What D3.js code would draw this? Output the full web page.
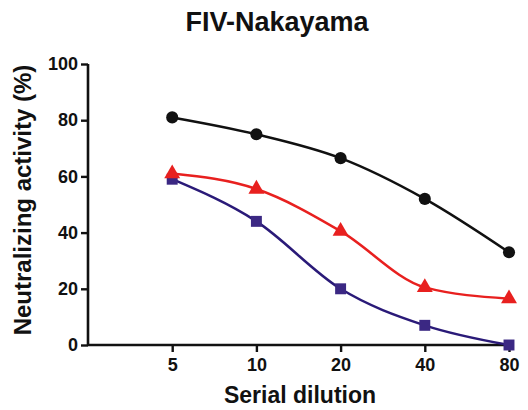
<!DOCTYPE html>
<html><head><meta charset="utf-8">
<script src="https://cdn.jsdelivr.net/npm/d3@7"></script>
<style>body{margin:0;background:#fff}svg{display:block}text{font-family:"Liberation Sans",Arial,sans-serif;font-weight:bold}</style>
</head><body>
<script>
const dilutions = [5, 10, 20, 40, 80];
const xTickLabels = ["5", "10", "20", "40", "80"];
const yTicks = [0, 20, 40, 60, 80, 100];
const seriesBlack = [81, 75, 66.5, 52, 33];
const seriesRed = [61, 55.5, 40.5, 20.5, 16.5];
const seriesBlue = [59, 44, 20, 7, 0];

const W = 528, H = 410;
const svg = d3.select("body").append("svg").attr("width", W).attr("height", H);
const x = d3.scaleLog().base(2).domain([2.5, 80]).range([88, 509]);
const y = d3.scaleLinear().domain([0, 100]).range([345, 64]);

svg.append("text").attr("x", 277).attr("y", 31).attr("text-anchor", "middle")
  .style("font-size", "27px").attr("fill", "#111").text("FIV-Nakayama");

const yAxis = svg.append("g").attr("transform", "translate(88,0)")
  .call(d3.axisLeft(y).tickValues(yTicks).tickSize(7).tickPadding(3).tickFormat(d3.format("d")));
const xAxis = svg.append("g").attr("transform", "translate(0,345)")
  .call(d3.axisBottom(x).tickValues(dilutions).tickSize(7).tickPadding(6).tickFormat((d, i) => xTickLabels[i]));
[yAxis, xAxis].forEach(g => {
  g.select(".domain").attr("stroke", "#111").attr("stroke-width", 2.6);
  g.selectAll(".tick line").attr("stroke", "#111").attr("stroke-width", 2.4);
  g.selectAll(".tick text").style("font-size", "18px").attr("fill", "#111").style("font-family", '"Liberation Sans",Arial,sans-serif').style("font-weight", "bold");
});
yAxis.select(".domain").attr("d", "M0,64V345");
xAxis.select(".domain").attr("d", "M88,0H512");

svg.append("text").attr("transform", "translate(31,200) rotate(-90)").attr("text-anchor", "middle")
  .style("font-size", "24px").attr("fill", "#111").text("Neutralizing activity (%)");
svg.append("text").attr("x", 300).attr("y", 403).attr("text-anchor", "middle")
  .style("font-size", "23px").attr("fill", "#111").text("Serial dilution");

const line = d3.line().x((d, i) => x(dilutions[i])).y(d => y(d)).curve(d3.curveMonotoneX);
const series = [
  {vals: seriesBlack, stroke: "#111", fill: "#111", sym: d3.symbolCircle, size: 115},
  {vals: seriesRed, stroke: "#e8201f", fill: "#e8201f", sym: d3.symbolTriangle, size: 110},
  {vals: seriesBlue, stroke: "#2a1a78", fill: "#3b2883", sym: d3.symbolSquare, size: 120}
];
series.forEach(s => {
  svg.append("path").datum(s.vals).attr("d", line).attr("fill", "none").attr("stroke", s.stroke).attr("stroke-width", 2.5);
});
series.slice().reverse().forEach(s => {
  svg.selectAll(null).data(s.vals).enter().append("path")
    .attr("transform", (d, i) => `translate(${x(dilutions[i])},${y(d)})`)
    .attr("d", d3.symbol().type(s.sym).size(s.size)).attr("fill", s.fill);
});
</script>
</body></html>
